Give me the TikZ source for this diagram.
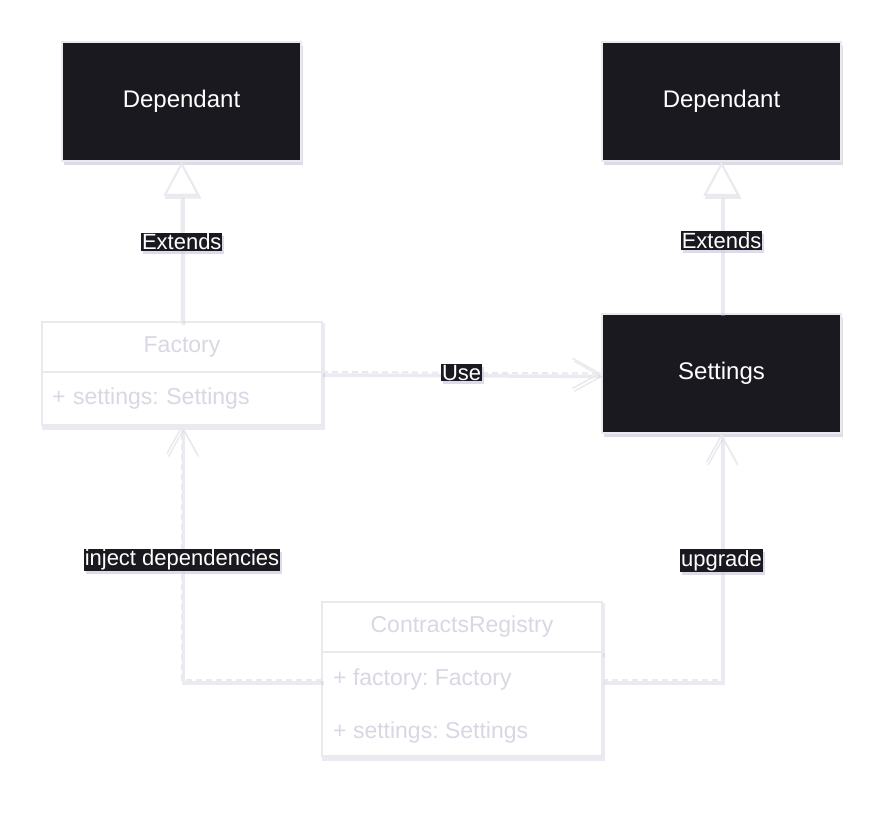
\documentclass[tikz,border=0pt]{standalone}
\usepackage{fontspec}
\setmainfont{Liberation Sans}
\frenchspacing
\usetikzlibrary{arrows.meta,positioning,shadows}
\definecolor{boxdark}{RGB}{26,25,31}
\definecolor{linegray}{RGB}{234,234,238}
\definecolor{lineshadow}{RGB}{196,196,222}
\definecolor{txtgray}{RGB}{216,216,228}
\newcommand{\boxfont}{\fontsize{24}{28}\selectfont}
\newcommand{\classfont}{\fontsize{23}{27}\selectfont}
\newcommand{\lblfont}{\fontsize{22}{26}\selectfont}
\tikzset{
  glow/.style={preaction={draw=lineshadow,line width=3.5pt,opacity=0.35,transform canvas={shift={(1.5pt,-3pt)}}}},
  darkbox/.style={rectangle,fill=boxdark,draw=linegray,line width=1.5pt,text=white,font=\boxfont,
    minimum width=239pt,minimum height=119pt,
    drop shadow={shadow xshift=2pt,shadow yshift=-4pt,fill=lineshadow,opacity=0.6}},
  classhead/.style={rectangle,draw=linegray,fill=white,line width=2pt,glow,outer sep=0pt,
    minimum width=280pt,minimum height=50pt,text=txtgray,font=\classfont},
  classbody/.style={classhead,minimum height=53pt},
  attrtext/.style={inner sep=0pt,anchor=west,text=txtgray,font=\classfont},
  lbl/.style={rectangle,fill=boxdark,text=white,inner sep=1pt,font=\lblfont,
    drop shadow={shadow xshift=2pt,shadow yshift=-3pt,fill=lineshadow,opacity=0.6}},
  extendarr/.style={-{Triangle[open,width=36pt,length=34pt,fill=white]},draw=linegray,line width=2pt,glow},
  usearr/.style={-{Straight Barb[width=30pt,length=27pt,line width=1.5pt]},draw=linegray,line width=2pt,
    dash pattern=on 6pt off 4pt,glow}
}
\begin{document}
\begin{tikzpicture}[x=1pt,y=-1pt]
  \fill[white] (0,0) rectangle (896,816);
  \useasboundingbox (0,0) rectangle (896,816);

  \node[darkbox] (depL) at (181.5,101.5) {Dependant};
  \node[darkbox] (depR) at (721.5,101.5) {Dependant};
  \node[darkbox] (settings) at (721.5,373.5) {Settings};

  \node[classhead] (factory) at (182,347) {Factory};
  \node[classbody,below=0pt of factory,text width=260pt,inner xsep=10pt,align=left] (factorybody)
      {+ settings: Settings};

  \node[classhead] (registry) at (462,627) {ContractsRegistry};
  \node[classbody,below=0pt of registry,minimum height=104pt] (registrybody) {};
  \node[attrtext] (regfactory) at (333,680) {+ factory: Factory};
  \node[attrtext] (regsettings) at (333,733) {+ settings: Settings};

  \draw[extendarr] (factory.north) -- node[lbl]{Extends} (depL.south);
  \draw[extendarr] (settings.north) -- node[lbl,pos=0.48]{Extends} (depR.south);
  \draw[usearr] (factory.south east) -- node[lbl]{Use} (settings.west);
  \draw[usearr] (registrybody.west |- regfactory) -| node[lbl,pos=0.735]{inject dependencies} (factorybody.south);
  \draw[usearr] (registrybody.east |- regfactory) -| node[lbl,pos=0.743]{upgrade} (settings.south);
\end{tikzpicture}
\end{document}
